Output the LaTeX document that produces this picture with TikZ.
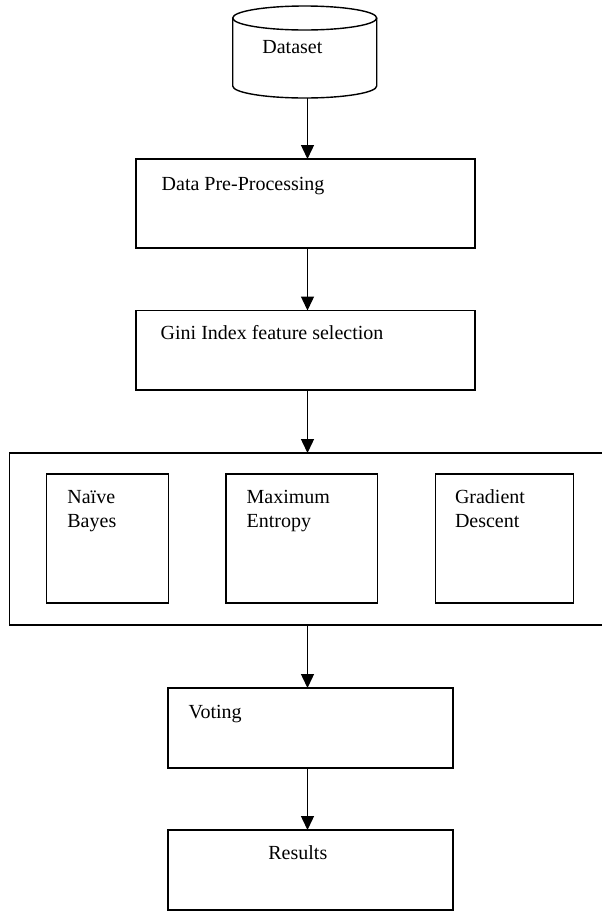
\documentclass[tikz,border=0pt]{standalone}
\usepackage{fontspec}
\setmainfont{Liberation Serif}
\usetikzlibrary{arrows.meta}

\begin{document}
\begin{tikzpicture}[x = 1pt, y = -1pt, line width = 1.4pt,
    >={Triangle[length = 14pt, width = 13pt]},
    box/.style 2 args = {draw, minimum width = #1, minimum height = #2, inner sep = 0pt, outer sep = 0pt, anchor = north west},
    txt/.style = {font = \fontsize{20}{24}\selectfont, inner sep = 0pt, anchor = base west, align = left}]
    \useasboundingbox (0,0) rectangle (602,911);
    % dataset cylinder
    \draw (304.7,18) ellipse (72pt and 12pt);
    \draw (232.7,18) -- (232.7,86) arc (180:360:72pt and 12pt) -- (376.7,18);
    \node (data) at (261.7,53.3) [txt] {Dataset};
    \coordinate (dbot) at (307.5,98);
    \node (prep) at (136,159) [box = {339pt}{89pt}, label = {[txt, xshift = 25pt, yshift = -31pt]north west:Data Pre-Processing}] {};
    \node (gini) at (136,310.5) [box = {339pt}{79.5pt}, label = {[txt, xshift = 24pt, yshift = -29pt]north west:Gini Index feature selection}] {};
    \node (models) at (9.3,453) [box = {620pt}{172pt}] {};
    % two-line labels sit on their last line
    \node (nb) at (46.7,474) [box = {121.6pt}{129pt}, label = {[txt, xshift = 20pt, yshift = -53pt]north west:Naïve\\Bayes}] {};
    \node (me) at (226,474) [box = {151.3pt}{129pt}, label = {[txt, xshift = 20pt, yshift = -53pt]north west:Maximum\\Entropy}] {};
    \node (gd) at (435.7,474) [box = {138pt}{129pt}, label = {[txt, xshift = 18.6pt, yshift = -53pt]north west:Gradient\\Descent}] {};
    \node (vote) at (168,688) [box = {285pt}{80pt}, label = {[txt, xshift = 20pt, yshift = -30pt]north west:Voting}] {};
    \node (res) at (168,830) [box = {285pt}{80pt}, label = {[txt, xshift = 99.7pt, yshift = -29.5pt]north west:Results}] {};
    \draw [->] (dbot) -- (dbot |- prep.north);
    \draw [->] (prep.south -| dbot) -- (gini.north -| dbot);
    \draw [->] (gini.south -| dbot) -- (models.north -| dbot);
    \draw [->] (models.south -| dbot) -- (vote.north -| dbot);
    \draw [->] (vote.south -| dbot) -- (res.north -| dbot);
\end{tikzpicture}
\end{document}
